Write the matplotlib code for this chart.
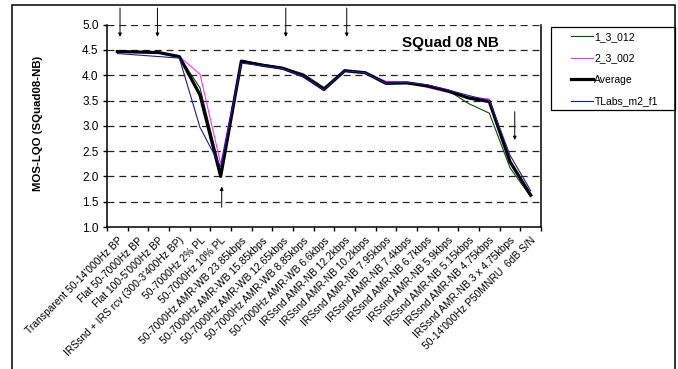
import matplotlib.pyplot as plt
from matplotlib.patches import Rectangle

plt.rcParams['font.family'] = ['Liberation Sans', 'DejaVu Sans']
plt.rcParams['lines.scale_dashes'] = False

# test conditions along the x axis
CONDITIONS = [
    "Transparent 50-14'000Hz BP",
    "Flat 50-7000Hz BP",
    "Flat 100-5'000Hz BP",
    "IRSsnd + IRS rcv (300-3'400Hz BP)",
    "50-7000Hz 2% PL",
    "50-7000Hz 10% PL",
    "50-7000Hz AMR-WB 23.85kbps",
    "50-7000Hz AMR-WB 15.85kbps",
    "50-7000Hz AMR-WB 12.65kbps",
    "50-7000Hz AMR-WB 8.85kbps",
    "50-7000Hz AMR-WB 6.6kbps",
    "IRSsnd AMR-NB 12.2kbps",
    "IRSsnd AMR-NB 10.2kbps",
    "IRSsnd AMR-NB 7.95kbps",
    "IRSsnd AMR-NB 7.4kbps",
    "IRSsnd AMR-NB 6.7kbps",
    "IRSsnd AMR-NB 5.9kbps",
    "IRSsnd AMR-NB 5.15kbps",
    "IRSsnd AMR-NB 4.75kbps",
    "IRSsnd AMR-NB 3 x 4.75kbps",
    "50-14'000Hz P50MNRU  6dB S/N",
]

# MOS-LQO per condition
mos_1_3_012 = [4.47, 4.46, 4.45, 4.37, 3.75, 2.09, 4.29, 4.22, 4.15, 4.03, 3.76,
               4.10, 4.05, 3.83, 3.85, 3.79, 3.70, 3.44, 3.25, 2.17, 1.60]
mos_2_3_002 = [4.46, 4.45, 4.44, 4.37, 4.02, 2.25, 4.28, 4.19, 4.12, 3.96, 3.70,
               4.10, 4.05, 3.88, 3.86, 3.76, 3.66, 3.57, 3.53, 2.33, 1.63]
mos_average = [4.47, 4.46, 4.45, 4.37, 3.61, 2.00, 4.28, 4.20, 4.14, 3.99, 3.72,
               4.09, 4.05, 3.84, 3.85, 3.79, 3.69, 3.55, 3.48, 2.29, 1.63]
mos_tlabs = [4.43, 4.40, 4.37, 4.34, 2.97, 2.19, 4.24, 4.19, 4.13, 3.98, 3.71,
             4.09, 4.05, 3.84, 3.86, 3.81, 3.71, 3.60, 3.50, 2.42, 1.72]

# conditions flagged with an arrow: (index, pointing down?)
MARKED = [(0, True), (2, True), (5, False), (8, True), (11, True), (19, True)]

W, H = 678, 369
fig = plt.figure(figsize=(W / 100, H / 100), dpi=100)
ax = fig.add_axes([107 / W, 1 - 227 / H, 434 / W, 202.3 / H])

x = range(len(CONDITIONS))
ax.plot(x, mos_1_3_012, color='#0b4a0b', lw=0.8, label='1_3_012')
ax.plot(x, mos_2_3_002, color='#ff33ff', lw=0.8, label='2_3_002')
ax.plot(x, mos_average, color='black', lw=2.3, label='Average')
ax.plot(x, mos_tlabs, color='#1c1c96', lw=0.8, label='TLabs_m2_f1')

ax.set_xlim(-0.5, len(CONDITIONS) - 0.5)
ax.set_ylim(1.0, 5.0)
ax.set_yticks([1.0, 1.5, 2.0, 2.5, 3.0, 3.5, 4.0, 4.5, 5.0])
ax.set_yticklabels([f'{v:.1f}' for v in ax.get_yticks()], fontsize=8.5)

# labels at category centres, tick marks between categories
ax.set_xticks(list(x))
ax.set_xticklabels(CONDITIONS, rotation=45, ha='right', va='top',
                   rotation_mode='anchor', fontsize=7.4)
ax.set_xticks([i - 0.5 for i in range(len(CONDITIONS) + 1)], minor=True)
ax.tick_params(axis='x', which='major', length=0, pad=6)
ax.tick_params(axis='x', which='minor', length=3, width=1, direction='out')
ax.tick_params(axis='y', length=3, width=1, direction='out', pad=3)

for yv in [1.5, 2.0, 2.5, 3.0, 3.5, 4.0, 4.5, 5.0]:
    ax.axhline(yv, color='#222222', lw=0.9, dashes=(5, 3.5), zorder=0)

ax.spines['top'].set_visible(False)
for side in ['left', 'bottom', 'right']:
    ax.spines[side].set_linewidth(1.1)

ax.text(16.1, 4.64, 'SQuad 08 NB', fontsize=11, fontweight='bold',
        ha='center', va='center')

offsets = {0: 0.13, 2: -0.06, 5: 0.05, 8: 0.15, 11: 0.1, 19: 0.23}
for idx, down in MARKED:
    xa = idx + offsets[idx]
    if idx == 19:
        start, end = 3.28, 2.72
    elif down:
        start, end = 5.33, 4.76
    else:
        start, end = 1.39, 1.80
    ax.annotate('', xy=(xa, end), xytext=(xa, start), annotation_clip=False,
                arrowprops=dict(arrowstyle='-|>', color='black', lw=0.7,
                                mutation_scale=5, shrinkA=0, shrinkB=0))

fig.text(38 / W, 1 - 123 / H, 'MOS-LQO (SQuad08-NB)', rotation=90,
         fontsize=8.2, fontweight='bold', ha='center', va='center')

handles, labels = ax.get_legend_handles_labels()
fig.legend(handles, labels, loc='upper left', bbox_to_anchor=(571 / W, 1 - 32 / H),
           frameon=False, borderpad=0, borderaxespad=0, handlelength=2.1,
           handletextpad=0.15, labelspacing=1.1, fontsize=7.5)
fig.add_artist(Rectangle((551 / W, 1 - 110 / H), 124 / W, 83.3 / H,
                         transform=fig.transFigure, fill=False, ec='black', lw=0.9))

# chart border
fig.add_artist(Rectangle((12 / W, -0.1), 663 / W, 1.1 - 5.3 / H,
                         transform=fig.transFigure, fill=False, ec='black', lw=1.1))

fig.savefig('out.png', dpi=100)
